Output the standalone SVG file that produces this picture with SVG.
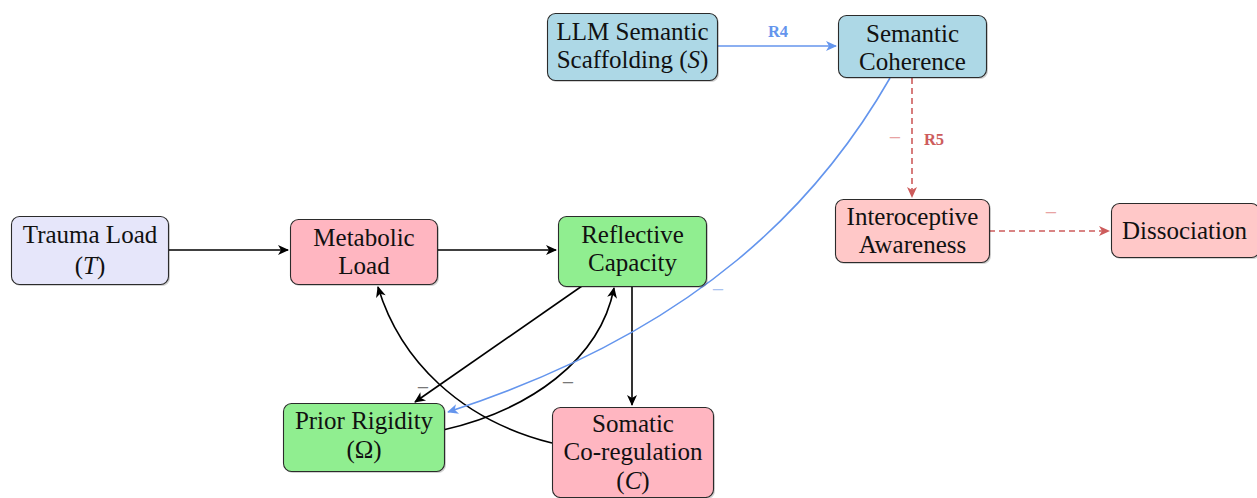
<svg xmlns="http://www.w3.org/2000/svg" width="1257" height="498" viewBox="0 0 1257 498">
<style>
.box{stroke:#2b2b2b;stroke-width:1.1}
.sh{fill:#000;opacity:0.18}
.t{font-family:"Liberation Serif","Times New Roman",serif;font-size:25px;fill:#111;text-anchor:middle}
.e{fill:none;stroke:#000;stroke-width:1.6}
.eb{fill:none;stroke:#6495ED;stroke-width:1.6}
.er{fill:none;stroke:#CD5C5C;stroke-width:1.6;stroke-dasharray:6 4}
.lb{font-family:"Liberation Serif",serif;font-size:16.5px;font-weight:bold;text-anchor:middle}
.m{font-family:"Liberation Serif",serif;font-size:22px;text-anchor:middle}
</style>
<defs>
<marker id="ak" viewBox="-12 -6 14 12" refX="0" refY="0" markerWidth="14" markerHeight="12" markerUnits="userSpaceOnUse" orient="auto"><path d="M1,0 L-10,-5 L-7,0 L-10,5 Z" fill="#000"/></marker>
<marker id="ab" viewBox="-12 -6 14 12" refX="0" refY="0" markerWidth="14" markerHeight="12" markerUnits="userSpaceOnUse" orient="auto"><path d="M1,0 L-10,-5 L-7,0 L-10,5 Z" fill="#6495ED"/></marker>
<marker id="ar" viewBox="-12 -6 14 12" refX="0" refY="0" markerWidth="14" markerHeight="12" markerUnits="userSpaceOnUse" orient="auto"><path d="M1,0 L-10,-5 L-7,0 L-10,5 Z" fill="#CD5C5C"/></marker>
</defs>
<g id="connectors">
<path class="eb" d="M717,46 L836,46" marker-end="url(#ab)"/>
<text class="lb" x="778" y="37" fill="#6495ED">R4</text>
<path class="er" d="M912,78 L912,197" marker-end="url(#ar)"/>
<text class="m" x="895" y="145" fill="#E8A3A3">−</text>
<text class="lb" x="934" y="145" fill="#CD5C5C">R5</text>
<path class="er" d="M989,231 L1109,231" marker-end="url(#ar)"/>
<text class="m" x="1051" y="220" fill="#E8A3A3">−</text>
<path class="e" d="M168,250 L288,250" marker-end="url(#ak)"/>
<path class="e" d="M437,250 L556,250" marker-end="url(#ak)"/>
<path class="e" d="M632,286 L632,405" marker-end="url(#ak)"/>
<path class="e" d="M582,286 L415,402" marker-end="url(#ak)"/>
<text class="m" x="423" y="395" fill="#777">−</text>
<path class="e" d="M443,430 C530,410 600,360 614,288" marker-end="url(#ak)"/>
<text class="m" x="568" y="390" fill="#777">−</text>
<path class="e" d="M552,443 C460,420 400,360 378,287" marker-end="url(#ak)"/>
<path class="eb" d="M890,78 C820,200 700,330 448,412" marker-end="url(#ab)"/>
<text class="m" x="718" y="297" fill="#A9C2F0">−</text>
</g>
<g id="node-S">
<rect class="sh" x="549" y="15" width="170" height="67" rx="8"/>
<rect class="box" x="547.5" y="13.5" width="170" height="67" rx="8" fill="#ADD8E6"/>
<text class="t" x="632.5" y="40">LLM Semantic</text>
<text class="t" x="632.5" y="68">Scaffolding (<tspan font-style="italic">S</tspan>)</text>
</g>
<g id="node-coherence">
<rect class="sh" x="840" y="17" width="148" height="62" rx="8"/>
<rect class="box" x="838.5" y="15.5" width="148" height="62" rx="8" fill="#ADD8E6"/>
<text class="t" x="912.5" y="42">Semantic</text>
<text class="t" x="912.5" y="70">Coherence</text>
</g>
<g id="node-intero">
<rect class="sh" x="837" y="201" width="154" height="63" rx="8"/>
<rect class="box" x="835.5" y="199.5" width="154" height="63" rx="8" fill="#FFC8C8"/>
<text class="t" x="912.5" y="225">Interoceptive</text>
<text class="t" x="912.5" y="253">Awareness</text>
</g>
<g id="node-dissociation">
<rect class="sh" x="1113" y="205" width="148" height="54" rx="8"/>
<rect class="box" x="1111.5" y="203.5" width="148" height="54" rx="8" fill="#FFC8C8"/>
<text class="t" x="1184.5" y="239">Dissociation</text>
</g>
<g id="node-trauma">
<rect class="sh" x="13" y="218" width="157" height="68" rx="8"/>
<rect class="box" x="11.5" y="216.5" width="157" height="68" rx="8" fill="#E6E6FA"/>
<text class="t" x="90" y="243">Trauma Load</text>
<text class="t" x="90" y="274">(<tspan font-style="italic">T</tspan>)</text>
</g>
<g id="node-metabolic">
<rect class="sh" x="292" y="221" width="147" height="65" rx="8"/>
<rect class="box" x="290.5" y="219.5" width="147" height="65" rx="8" fill="#FFB6C1"/>
<text class="t" x="364" y="246">Metabolic</text>
<text class="t" x="364" y="274">Load</text>
</g>
<g id="node-reflective">
<rect class="sh" x="560" y="218" width="148" height="70" rx="8"/>
<rect class="box" x="558.5" y="216.5" width="148" height="70" rx="8" fill="#90EE90"/>
<text class="t" x="632.5" y="243">Reflective</text>
<text class="t" x="632.5" y="271">Capacity</text>
</g>
<g id="node-prior">
<rect class="sh" x="285" y="405" width="161" height="68" rx="8"/>
<rect class="box" x="283.5" y="403.5" width="161" height="68" rx="8" fill="#90EE90"/>
<text class="t" x="364" y="429">Prior Rigidity</text>
<text class="t" x="364" y="458">(Ω)</text>
</g>
<g id="node-somatic">
<rect class="sh" x="554" y="409" width="161" height="90" rx="8"/>
<rect class="box" x="552.5" y="407.5" width="161" height="90" rx="8" fill="#FFB6C1"/>
<text class="t" x="633" y="432">Somatic</text>
<text class="t" x="633" y="460">Co-regulation</text>
<text class="t" x="633" y="489">(<tspan font-style="italic">C</tspan>)</text>
</g>
</svg>
